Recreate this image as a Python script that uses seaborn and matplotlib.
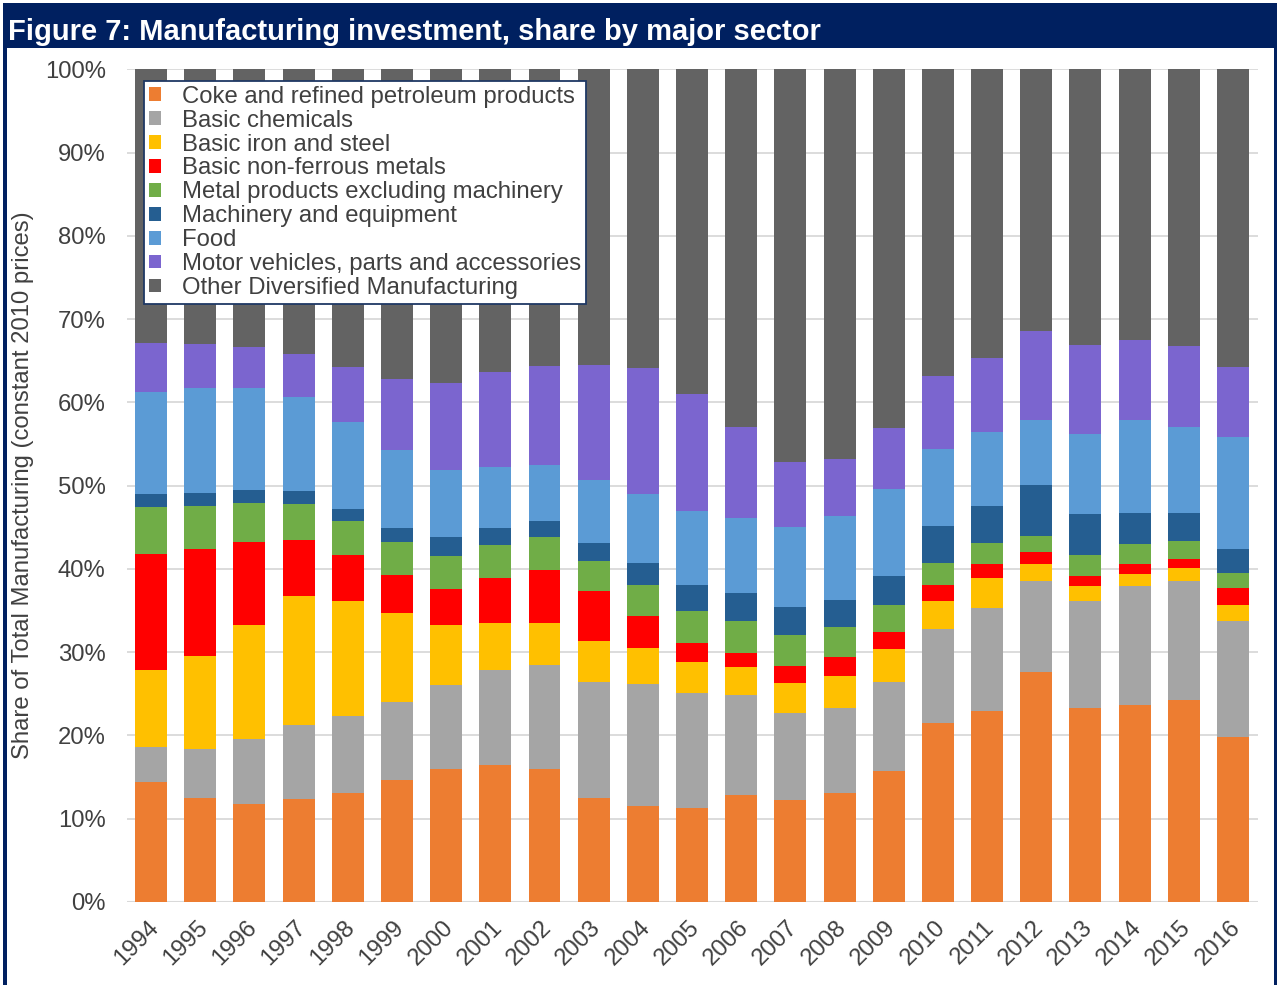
import numpy as np
import pandas as pd
import matplotlib
matplotlib.use("Agg")
import matplotlib.pyplot as plt
from matplotlib.patches import Patch, Rectangle
import matplotlib.transforms as mtransforms
import seaborn as sns

years = [str(y) for y in range(1994, 2017)]

coke = [14.4, 12.5, 11.8, 12.4, 13.1, 14.6, 16.0, 16.4, 16.0, 12.5, 11.5, 11.3,
        12.9, 12.2, 13.1, 15.7, 21.5, 22.9, 27.6, 23.3, 23.6, 24.3, 19.8]
chemicals = [4.2, 5.9, 7.8, 8.9, 9.2, 9.4, 10.1, 11.5, 12.5, 13.9, 14.7, 13.8,
             11.9, 10.5, 10.2, 10.7, 11.3, 12.4, 10.9, 12.9, 14.4, 14.3, 14.0]
iron_steel = [9.3, 11.1, 13.7, 15.4, 13.9, 10.7, 7.2, 5.6, 5.0, 4.9, 4.3, 3.7,
              3.4, 3.6, 3.9, 4.0, 3.4, 3.6, 2.1, 1.7, 1.4, 1.5, 1.9]
non_ferrous = [13.9, 12.9, 9.9, 6.8, 5.5, 4.6, 4.3, 5.4, 6.4, 6.0, 3.8, 2.3,
               1.7, 2.0, 2.2, 2.0, 1.9, 1.7, 1.4, 1.3, 1.2, 1.1, 2.0]
metal_products = [5.6, 5.1, 4.7, 4.3, 4.0, 3.9, 4.0, 4.0, 3.9, 3.7, 3.8, 3.8,
                  3.9, 3.8, 3.6, 3.3, 2.6, 2.5, 1.9, 2.5, 2.4, 2.1, 1.8]
machinery = [1.6, 1.6, 1.6, 1.5, 1.5, 1.7, 2.2, 2.0, 2.0, 2.1, 2.6, 3.2,
             3.3, 3.3, 3.3, 3.5, 4.4, 4.4, 6.2, 4.9, 3.7, 3.4, 2.9]
food = [12.2, 12.6, 12.2, 11.3, 10.4, 9.4, 8.1, 7.3, 6.7, 7.6, 8.3, 8.8,
        9.0, 9.6, 10.0, 10.4, 9.3, 9.0, 7.8, 9.6, 11.2, 10.4, 13.4]
motor = [5.9, 5.3, 5.0, 5.2, 6.7, 8.5, 10.4, 11.4, 11.9, 13.8, 15.1, 14.1,
         10.9, 7.9, 6.9, 7.3, 8.8, 8.8, 10.7, 10.7, 9.6, 9.7, 8.5]
other = [32.9, 33.0, 33.3, 34.2, 35.7, 37.2, 37.7, 36.4, 35.6, 35.5, 35.9, 39.0,
         43.0, 47.1, 46.8, 43.1, 36.8, 34.7, 31.4, 33.1, 32.5, 33.2, 35.7]

series_names = ["Coke and refined petroleum products", "Basic chemicals",
                "Basic iron and steel", "Basic non-ferrous metals",
                "Metal products excluding machinery", "Machinery and equipment",
                "Food", "Motor vehicles, parts and accessories",
                "Other Diversified Manufacturing"]
series_values = [coke, chemicals, iron_steel, non_ferrous, metal_products,
                 machinery, food, motor, other]
colors = ["#ED7D31", "#A5A5A5", "#FFC000", "#FF0000", "#70AD47",
          "#255E91", "#5B9BD5", "#7B65CF", "#636363"]

df = pd.DataFrame({n: v for n, v in zip(series_names, series_values)}, index=years)
# normalise to shares of 100%
df = df.div(df.sum(axis=1), axis=0)
cum = df.cumsum(axis=1)

sns.set_theme(style="white")
plt.rcParams["font.family"] = ["Liberation Sans", "DejaVu Sans"]

W, H = 1277, 985
FS = 17.2
TXT = "#404040"
fig = plt.figure(figsize=(W / 100, H / 100), dpi=100)

# frame / title bar
navy = "#002060"
fig.patches.append(Rectangle((3 / W, 0), 1 - 3 / W, 1 - 3 / H, transform=fig.transFigure,
                             facecolor=navy, edgecolor="none", zorder=-3))
fig.patches.append(Rectangle((7 / W, 0), (1274 - 7) / W, 1 - 48 / H, transform=fig.transFigure,
                             facecolor="white", edgecolor="none", zorder=-2))
fig.text(8 / W, 1 - 40 / H, "Figure 7: Manufacturing investment, share by major sector",
         color="white", fontsize=21, fontweight="bold", va="baseline", ha="left")

ax = fig.add_axes([126.5 / W, 83 / H, (1257.6 - 126.5) / W, (902 - 69.3) / H])
ax.set_facecolor("none")
ax.set_zorder(1)

# draw cumulative bars from top series down so each lower stack covers the one above
for name, col in reversed(list(zip(series_names, colors))):
    sns.barplot(x=years, y=cum[name].values * 100, color=col, width=0.65,
                ax=ax, saturation=1, zorder=3, linewidth=0)

ax.set_ylim(0, 100)
ax.set_xlim(-0.5, len(years) - 0.5)
ax.set_yticks(np.arange(0, 101, 10))
ax.set_yticklabels([f"{t}%" for t in range(0, 101, 10)])
ax.yaxis.grid(True, color="#D9D9D9", linewidth=1.3, zorder=0)
ax.xaxis.grid(False)
ax.set_axisbelow(True)
for s in ax.spines.values():
    s.set_visible(False)
ax.axhline(0, color="#D9D9D9", linewidth=1.5, zorder=1)
ax.tick_params(axis="y", labelsize=FS, labelcolor=TXT, length=0, pad=15)
ax.tick_params(axis="x", labelsize=FS, labelcolor=TXT, length=0, pad=10.5)
offset = mtransforms.ScaledTranslation(-4 / 100, 0, fig.dpi_scale_trans)
for lbl in ax.get_xticklabels():
    lbl.set_rotation(45)
    lbl.set_ha("right")
    lbl.set_rotation_mode("anchor")
    lbl.set_transform(lbl.get_transform() + offset)
ax.set_ylabel("Share of Total Manufacturing (constant 2010 prices)", fontsize=FS,
              color=TXT, labelpad=8)
ax.set_xlabel("")

handles = [Patch(facecolor=c, edgecolor="none") for c in colors]
leg = ax.legend(handles, series_names, loc="upper left", bbox_to_anchor=(0.0155, 0.986),
                borderaxespad=0, fontsize=FS, frameon=True, fancybox=False,
                edgecolor="#1F3864", framealpha=1, labelspacing=0.08,
                handlelength=0.5, handleheight=0.5, handletextpad=0.9,
                borderpad=0.2)
leg.get_frame().set_linewidth(1.3)
for t in leg.get_texts():
    t.set_color(TXT)
leg.set_zorder(5)

fig.savefig("out.png", dpi=100)
